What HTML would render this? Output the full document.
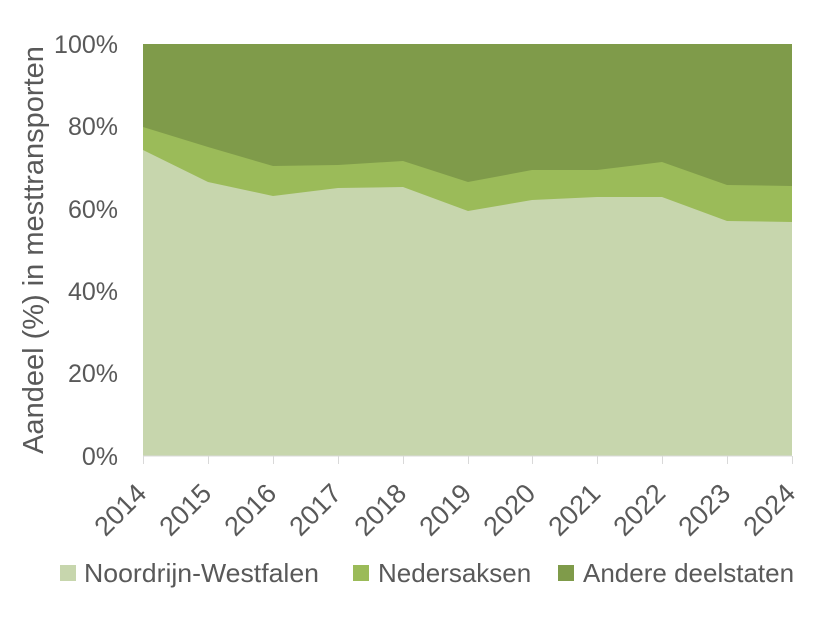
<!DOCTYPE html>
<html><head><meta charset="utf-8"><style>
body{margin:0;background:#fff;}
svg text{font-family:"Liberation Sans",sans-serif;fill:#595959;}
</style></head><body>
<svg width="830" height="623" viewBox="0 0 830 623" xmlns="http://www.w3.org/2000/svg">
<rect width="830" height="623" fill="#fff"/>
<polygon fill="#7f9b4a" points="143,44 792,44 792,456 143,456"/>
<polygon fill="#9bbb59" points="143,127 208,147 273,166 338,165 403,161 468,182 532,170 597,170 662,162 727,185 792,186 792,456 143,456"/>
<polygon fill="#c7d6ad" points="143,150 208,182 273,196 338,188 403,187 468,211 532,200 597,197 662,197 727,221 792,222 792,456 143,456"/>
<g stroke="#d9d9d9" stroke-width="1">
<line x1="143" y1="456" x2="792" y2="456"/>
<line x1="143.5" y1="456" x2="143.5" y2="464"/><line x1="208.5" y1="456" x2="208.5" y2="464"/>
<line x1="273.5" y1="456" x2="273.5" y2="464"/><line x1="338.5" y1="456" x2="338.5" y2="464"/>
<line x1="403.5" y1="456" x2="403.5" y2="464"/><line x1="468.5" y1="456" x2="468.5" y2="464"/>
<line x1="532.5" y1="456" x2="532.5" y2="464"/><line x1="597.5" y1="456" x2="597.5" y2="464"/>
<line x1="662.5" y1="456" x2="662.5" y2="464"/><line x1="727.5" y1="456" x2="727.5" y2="464"/>
<line x1="792.5" y1="456" x2="792.5" y2="464"/>
</g>
<g font-size="25" text-anchor="end">
<text x="118" y="53">100%</text>
<text x="118" y="135">80%</text>
<text x="118" y="218">60%</text>
<text x="118" y="300">40%</text>
<text x="118" y="382">20%</text>
<text x="118" y="465">0%</text>
</g>
<text font-size="29" text-anchor="middle" transform="translate(43,250) rotate(-90)">Aandeel (%) in mesttransporten</text>
<g font-size="27" text-anchor="end">
<text transform="translate(148,495) rotate(-45)">2014</text>
<text transform="translate(213,495) rotate(-45)">2015</text>
<text transform="translate(278,495) rotate(-45)">2016</text>
<text transform="translate(343,495) rotate(-45)">2017</text>
<text transform="translate(408,495) rotate(-45)">2018</text>
<text transform="translate(473,495) rotate(-45)">2019</text>
<text transform="translate(537,495) rotate(-45)">2020</text>
<text transform="translate(602,495) rotate(-45)">2021</text>
<text transform="translate(667,495) rotate(-45)">2022</text>
<text transform="translate(732,495) rotate(-45)">2023</text>
<text transform="translate(797,495) rotate(-45)">2024</text>
</g>
<rect x="60" y="565" width="16" height="16" fill="#c7d6ad"/>
<text x="84" y="582" font-size="26" textLength="235" lengthAdjust="spacingAndGlyphs">Noordrijn-Westfalen</text>
<rect x="353" y="565" width="16" height="16" fill="#9bbb59"/>
<text x="378" y="582" font-size="26">Nedersaksen</text>
<rect x="558" y="565" width="16" height="16" fill="#7f9b4a"/>
<text x="583" y="582" font-size="26">Andere deelstaten</text>
</svg>
</body></html>
